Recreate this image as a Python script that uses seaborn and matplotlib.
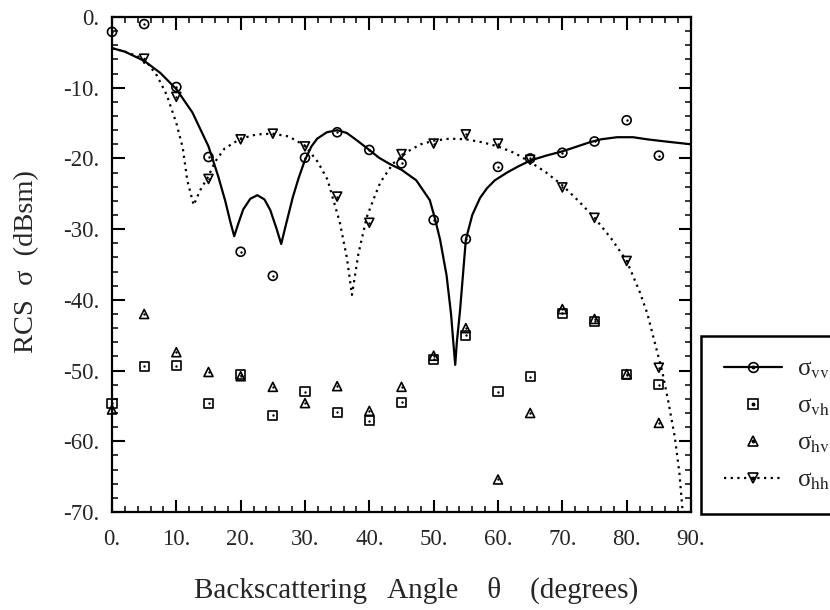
import matplotlib
matplotlib.use("Agg")
import matplotlib.pyplot as plt
import seaborn as sns
import pandas as pd
from matplotlib.lines import Line2D
from matplotlib.ticker import MultipleLocator, FuncFormatter

# measured points (every 5 degrees)
angles = [0, 5, 10, 15, 20, 25, 30, 35, 40, 45, 50, 55, 60, 65, 70, 75, 80, 85]
vv_meas = [-2.1, -1.0, -9.9, -19.8, -33.2, -36.6, -19.9, -16.3, -18.8, -20.7,
           -28.7, -31.4, -21.2, -20.0, -19.2, -17.6, -14.6, -19.6]
vh_meas = [-54.6, -49.4, -49.3, -54.6, -50.6, -56.3, -53.0, -55.9, -57.1, -54.5,
           -48.4, -45.0, -53.0, -50.9, -41.9, -43.0, -50.6, -52.0]
hv_meas = [-55.5, -42.0, -47.4, -50.2, -50.8, -52.3, -54.6, -52.2, -55.7, -52.3,
           -47.9, -44.0, -65.4, -56.0, -41.3, -42.7, -50.5, -57.4]
hh_angles = [5, 10, 15, 20, 25, 30, 35, 40, 45, 50, 55, 60, 65, 70, 75, 80, 85]
hh_meas = [-5.9, -11.3, -22.9, -17.3, -16.5, -18.3, -25.4, -29.1, -19.4, -17.9,
           -16.6, -17.9, -20.2, -24.1, -28.4, -34.5, -49.6]

# computed curves
vv_curve_x = [0, 2, 5, 7.5, 10, 12.5, 15, 16.5, 17.6, 18.4, 19.0, 19.6, 20.4, 21.5,
              22.6, 23.7, 24.6, 25.6, 26.3, 27.0, 28.1, 29, 30, 31, 31.9, 33.4, 35,
              36.5, 38, 40, 41.5, 43.2, 45, 47.3, 49.4, 50.2, 51, 52, 52.7, 53.1,
              53.35, 53.6, 54.1, 55, 56, 57.2, 58.3, 59.5, 61.4, 63, 65, 67.5, 70,
              72, 74.3, 76, 78.5, 81, 83.2, 86, 90]
vv_curve_y = [-4.4, -4.9, -6.2, -7.9, -10.2, -13.5, -18.3, -22.5, -26.0, -29.0, -31.0,
              -29.3, -27.2, -25.7, -25.2, -25.8, -27.3, -30.0, -32.1, -29.5, -25.5,
              -22.8, -20.2, -18.3, -17.2, -16.3, -16.0, -16.4, -17.4, -18.8, -19.9,
              -20.8, -21.6, -23.1, -25.9, -28.5, -31.5, -36.5, -42.0, -46.5, -49.2,
              -46.0, -41.5, -31.5, -28.0, -25.6, -24.2, -23.1, -22.0, -21.2, -20.3,
              -19.6, -19.0, -18.4, -17.7, -17.3, -17.0, -17.0, -17.3, -17.6, -18.0]
hh_curve_x = [0, 2, 5, 7, 8.5, 10, 11, 11.7, 12.7, 13.7, 15, 16, 17.5, 20, 22.5, 25,
              27.5, 30, 32, 33.5, 35.4, 36.5, 37.3, 38.3, 39.6, 40.6, 41.7, 43.7, 46,
              48, 50, 52.5, 55, 57.5, 60, 62.5, 65, 67.5, 70, 72.5, 75, 77.5, 80, 82,
              83.2, 84.5, 85.5, 86.5, 87.5, 88.2, 88.8]
hh_curve_y = [-4.4, -4.9, -5.9, -8.3, -11.0, -15.0, -18.5, -23.1, -26.6, -24.5, -22.5,
              -20.5, -18.6, -17.2, -16.6, -16.5, -16.9, -18.2, -20.5, -23.0, -29.0,
              -34.0, -39.3, -33.5, -28.3, -25.9, -23.4, -20.7, -19.0, -18.0, -17.5,
              -17.2, -17.3, -17.7, -18.3, -19.2, -20.5, -22.0, -23.8, -26.0, -28.4,
              -31.2, -34.5, -38.8, -41.9, -46.5, -50.0, -54.5, -59.5, -64.5, -71.0]

sns.set_style("ticks")
plt.rcParams["font.family"] = ["Liberation Serif", "DejaVu Serif"]
plt.rcParams["mathtext.fontset"] = "stix"

fig = plt.figure(figsize=(8.3, 6.1), dpi=100)
ax = fig.add_axes([112 / 830, 98 / 610, 579 / 830, 495 / 610])

curves_vv = pd.DataFrame({"angle": vv_curve_x, "rcs": vv_curve_y})
curves_hh = pd.DataFrame({"angle": hh_curve_x, "rcs": hh_curve_y})
sns.lineplot(data=curves_vv, x="angle", y="rcs", ax=ax, color="black", lw=1.6)
sns.lineplot(data=curves_hh, x="angle", y="rcs", ax=ax, color="black", lw=1.6,
             linestyle=(0, (1, 2)))

meas = [
    (angles, vv_meas, "o"),
    (angles, vh_meas, "s"),
    (angles, hv_meas, "^"),
    (hh_angles, hh_meas, "v"),
]
for xs, ys, mk in meas:
    sns.scatterplot(x=xs, y=ys, ax=ax, marker=mk, s=42, facecolor="none",
                    edgecolor="black", linewidth=1.2, clip_on=False, zorder=4)
    sns.scatterplot(x=xs, y=ys, ax=ax, marker="o", s=3, color="black",
                    linewidth=0, clip_on=False, zorder=5)

ax.set_xlim(0, 90)
ax.set_ylim(-70, 0)
ax.xaxis.set_major_locator(MultipleLocator(10))
ax.xaxis.set_minor_locator(MultipleLocator(2))
ax.yaxis.set_major_locator(MultipleLocator(10))
ax.yaxis.set_minor_locator(MultipleLocator(2))
fmt = FuncFormatter(lambda v, p: f"{v:.0f}.".replace("\u2212", "-"))
ax.xaxis.set_major_formatter(fmt)
ax.yaxis.set_major_formatter(fmt)
ax.tick_params(which="both", direction="in", top=True, right=True, labelsize=16.5,
               color="black")
ax.tick_params(which="major", length=9, width=1.5)
ax.tick_params(which="minor", length=4, width=1.1)
ax.tick_params(axis="x", pad=12)
ax.tick_params(axis="y", pad=9)
for sp in ax.spines.values():
    sp.set_linewidth(1.6)
    sp.set_color("black")

ax.set_xlabel("Backscattering   Angle    \u03b8    (degrees)", fontsize=21)
ax.set_ylabel("RCS  \u03c3  (dBsm)", fontsize=20.5)
ax.xaxis.set_label_coords(0.525, -0.13)
ax.yaxis.set_label_coords(-0.125, 0.505)

# legend
dot = dict(marker="o", markersize=1.8, color="black", linestyle="none")
hv_ = dict(markerfacecolor="none", markeredgecolor="black", markersize=7,
           markeredgewidth=1.2, color="black")
handles = [
    (Line2D([], [], marker="o", lw=1.6, **hv_), Line2D([], [], **dot)),
    (Line2D([], [], marker="s", linestyle="none", **hv_), Line2D([], [], **dot)),
    (Line2D([], [], marker="^", linestyle="none", **hv_), Line2D([], [], **dot)),
    (Line2D([], [], marker="v", lw=1.6, linestyle=(0, (1, 2)), **hv_),
     Line2D([], [], **dot)),
]
labels = ["\u03c3$_{\\rm vv}$", "\u03c3$_{\\rm vh}$", "\u03c3$_{\\rm hv}$",
          "\u03c3$_{\\rm hh}$"]
leg = fig.legend(handles, labels, loc="upper left",
                 bbox_to_anchor=(701 / 830, 274 / 610, 140 / 830, 0.0),
                 mode="expand", borderaxespad=0, borderpad=0.9, handlelength=2.32,
                 handletextpad=0.6, labelspacing=0.56, fontsize=18,
                 frameon=True, fancybox=False, framealpha=1)
leg.get_frame().set_edgecolor("black")
leg.get_frame().set_linewidth(1.8)

fig.savefig("out.png", dpi=100)
